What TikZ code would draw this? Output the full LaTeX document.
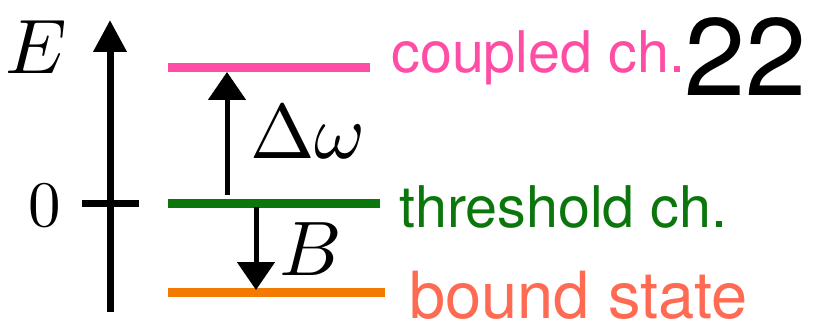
\RequirePackage{fix-cm}
\documentclass[tikz,border=0pt]{standalone}
\usepackage{fontspec}
\setsansfont{TeX Gyre Heros}
\usetikzlibrary{arrows.meta}
\definecolor{pinkc}{HTML}{FF4DA6}
\definecolor{greenc}{HTML}{0B760B}
\definecolor{orangec}{HTML}{F27A00}
\definecolor{salmonc}{HTML}{FF6A52}

\begin{document}
\begin{tikzpicture}[x=0.02cm,y=-0.02cm,
  level/.style={line width=0.18cm},
  gaparrow/.style={line width=0.1cm,-{Triangle[length=0.56cm,width=0.74cm]}},
  mathlbl/.style={inner sep=0pt,anchor=base,scale=4.4,font=\fontsize{10pt}{12pt}\selectfont},
  chan/.style={inner sep=0pt,anchor=base west,font=\sffamily\fontsize{32.7pt}{36pt}\selectfont}]
  \useasboundingbox (0,0) rectangle (820,328);

  % energy axis
  \coordinate (axbot) at (110,312);
  \coordinate (axtop) at (110,20);
  \coordinate (tickl) at (82,203);
  \coordinate (tickr) at (139,203);
  \draw[line width=0.14cm,-{Triangle[length=0.64cm,width=0.64cm]}] (axbot) -- (axtop);
  \draw[line width=0.14cm] (tickl) -- (tickr);
  \node[mathlbl] (E) at (36,73) {$E$};
  \node[mathlbl,scale=0.84] (zero) at (45,226) {$0$};

  % levels
  \coordinate (cpl) at (168,67);  \coordinate (cpr) at (370,67);
  \coordinate (thl) at (168,203); \coordinate (thr) at (380,203);
  \coordinate (bdl) at (168,292); \coordinate (bdr) at (385,292);
  \draw[level,pinkc] (cpl) -- (cpr);
  \draw[level,greenc] (thl) -- (thr);
  \draw[level,orangec] (bdl) -- (bdr);

  % gaps
  \coordinate (upfrom) at (227,195);
  \coordinate (upto) at (227,72);
  \coordinate (dnfrom) at (256,207);
  \coordinate (dnto) at (256,290);
  \draw[gaparrow] (upfrom) -- (upto);
  \draw[gaparrow] (dnfrom) -- (dnto);
  \node[mathlbl] (dw) at (308,158) {$\Delta\omega$};
  \node[mathlbl] (B) at (311,275) {$B$};

  \node[chan,text=pinkc] (cpltxt) at (391,72) {coupled ch.};
  \node[chan,text=greenc] (thtxt) at (399,227) {threshold ch.};
  \node[chan,text=salmonc,font=\sffamily\fontsize{37pt}{40pt}\selectfont] (bdtxt) at (409,318) {bound state};
  \node[inner sep=0pt,anchor=base west,font=\sffamily\fontsize{62.6pt}{66pt}\selectfont] (page) at (684,95) {22};
\end{tikzpicture}
\end{document}
